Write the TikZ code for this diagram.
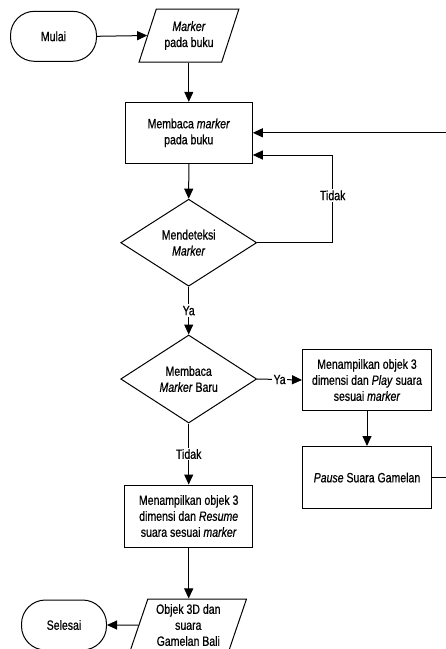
\documentclass[tikz,border=0pt]{standalone}
\usepackage{fontspec}
\setmainfont{Liberation Sans}[FakeStretch=0.78,FakeBold=0.6]
\usetikzlibrary{shapes.geometric,arrows.meta}

\tikzset{
  terminal/.style={draw, line width=1pt, rounded corners=24pt, minimum width=86, minimum height=50, inner sep=0pt},
  proses/.style={draw, line width=1pt, minimum width=128, minimum height=61, align=center, inner sep=1pt},
  keputusan/.style={draw, line width=1pt, diamond, aspect=1.56, minimum width=136, minimum height=87, align=center, inner sep=0pt},
  masukan/.style={draw, line width=1pt, trapezium, trapezium stretches=true, align=center, inner sep=0pt},
  panah/.style={line width=1pt, -{Triangle[length=10pt,width=9pt]}},
  ket/.style={fill=white, inner sep=1.5pt}
}

\begin{document}
\begin{tikzpicture}[x=1pt,y=1pt,yscale=-1,xscale=1,
    every node/.style={font=\fontsize{13.5}{16}\selectfont}]
  \useasboundingbox (0,0) rectangle (446,649);

  %Shape: Terminal [mulai]
  \node [terminal] (mulai) at (53.5,36.3) {Mulai};
  %Shape: Parallelogram [marker]
  \node [masukan, trapezium left angle=65.6, trapezium right angle=114.4, minimum width=100, minimum height=53] (marker) at (189,35.5) {\textit{Marker}\\pada buku};
  %Shape: Rectangle [baca]
  \node [proses, minimum width=127] (baca) at (188.8,132.8) {Membaca \textit{marker}\\pada buku};
  %Shape: Diamond [deteksi]
  \node [keputusan] (deteksi) at (188.7,242.7) {Mendeteksi\\\textit{Marker}};
  %Shape: Diamond [baru]
  \node [keputusan, minimum height=88] (baru) at (188.7,379) {Membaca\\\textit{Marker} Baru};
  %Shape: Rectangle [tampil]
  \node [proses, minimum width=129] (tampil) at (367,380) {Menampilkan objek 3\\dimensi dan \textit{Play} suara\\sesuai \textit{marker}};
  %Shape: Rectangle [pause]
  \node [proses, minimum width=129, minimum height=62] (pause) at (367,477.5) {\textit{Pause} Suara Gamelan};
  %Shape: Rectangle [resume]
  \node [proses, minimum height=62] (resume) at (188.7,516) {Menampilkan objek 3\\dimensi dan \textit{Resume}\\suara sesuai \textit{marker}};
  %Shape: Parallelogram [objek]
  \node [masukan, trapezium left angle=71.4, trapezium right angle=108.6, minimum width=117.5, minimum height=52] (objek) at (188.3,625) {Objek 3D dan\\suara\\Gamelan Bali};
  %Shape: Terminal [selesai]
  \node [terminal, minimum width=85] (selesai) at (64,625) {Selesai};

  %Corners of the loops
  \coordinate (tidakpojok) at (332.7,242.7);
  \coordinate (kanan) at (452,477.5);

  %Straight Lines
  \draw [panah] (mulai.east) -- (marker.west);
  \draw [panah] (baca.north |- marker.south) -- (baca.north);
  \draw [panah] (baca.south) -- (deteksi.north);
  \draw [panah] (deteksi.east) -- (tidakpojok) |- node [ket, pos=0.27] {Tidak} ([yshift=22.2]baca.east);
  \draw [panah] (deteksi.south) -- node [ket] {Ya} (baru.north);
  \draw [panah] (baru.east) -- node [ket] {Ya} (tampil.west);
  \draw [panah] (tampil.south) -- (pause.north);
  \draw [panah] (pause.east) -- (kanan) |- (baca.east);
  \draw [panah] (baru.south) -- node [ket] {Tidak} (resume.north);
  \draw [panah] (resume.south) -- (resume.south |- objek.north);
  \draw [panah] (objek.west) -- (selesai.east);

\end{tikzpicture}
\end{document}
